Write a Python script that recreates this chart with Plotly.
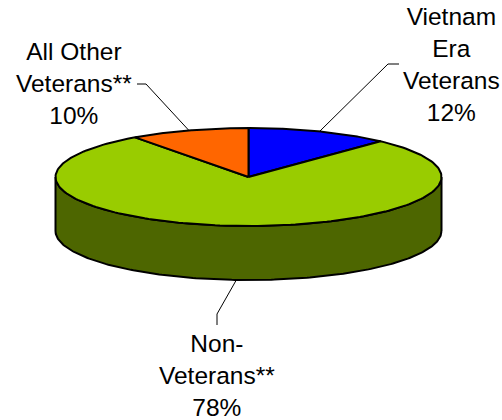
import numpy as np
import plotly.graph_objects as go

categories = ["Vietnam<br>Era<br>Veterans", "Non-<br>Veterans**", "All Other<br>Veterans**"]
values = [12, 78, 10]
colors = ["#0000FF", "#99CC00", "#FF6600"]
side_color = "#4D6600"

W, H = 502, 420
CX, CY, RX, RY, DEPTH = 248.5, 177, 193, 49, 54
label_pos = [(451, 64.5), (217, 375.5), (74, 83.5)]
elbows = [[(388, 64), (399, 64)], [(217, 314), (217, 325)], [(146, 84), (137, 84)]]
FONT = dict(family="Liberation Sans, Arial, sans-serif", size=24.5, color="#000000")


def ell(t, dy=0.0):
    return CX + RX * np.sin(t), CY - RY * np.cos(t) + dy


fig = go.Figure()

# side wall
t = np.linspace(np.pi / 2, 3 * np.pi / 2, 200)
x0, y0 = ell(t)
x1, y1 = ell(t, DEPTH)
fig.add_trace(go.Scatter(
    x=np.r_[x1, x0[::-1], x1[0]], y=np.r_[y1, y0[::-1], y1[0]],
    mode="lines", fill="toself", fillcolor=side_color,
    line=dict(color="#000000", width=2), hoverinfo="skip", showlegend=False))

# top slices
fractions = np.cumsum([0] + values) / sum(values) * 2 * np.pi
for i, c in enumerate(colors):
    t = np.linspace(fractions[i], fractions[i + 1], 200)
    ex, ey = ell(t)
    fig.add_trace(go.Scatter(
        x=np.r_[CX, ex, CX], y=np.r_[CY, ey, CY],
        mode="lines", fill="toself", fillcolor=c,
        line=dict(color="#000000", width=2), hoverinfo="skip", showlegend=False))

# leader lines and labels
for i, name in enumerate(categories):
    mid = (fractions[i] + fractions[i + 1]) / 2
    sx, sy = ell(mid, DEPTH if np.cos(mid) < 0 else 0)
    xs = [float(sx)] + [p[0] for p in elbows[i]]
    ys = [float(sy)] + [p[1] for p in elbows[i]]
    fig.add_trace(go.Scatter(x=xs, y=ys, mode="lines",
                             line=dict(color="#000000", width=1),
                             hoverinfo="skip", showlegend=False))
    fig.add_annotation(x=label_pos[i][0], y=label_pos[i][1],
                       text=f"{name}<br>{values[i]}%", showarrow=False,
                       xanchor="center", yanchor="middle", align="center", font=FONT)

fig.update_layout(
    width=W, height=H, margin=dict(l=0, r=0, t=0, b=0),
    paper_bgcolor="#FFFFFF", plot_bgcolor="#FFFFFF", showlegend=False,
    xaxis=dict(range=[0, W], visible=False, fixedrange=True),
    yaxis=dict(range=[H, 0], visible=False, fixedrange=True),
)
fig.write_html("out.html", config=dict(displayModeBar=False),
               post_script="document.body.style.margin='0';document.documentElement.style.overflow='hidden';")
